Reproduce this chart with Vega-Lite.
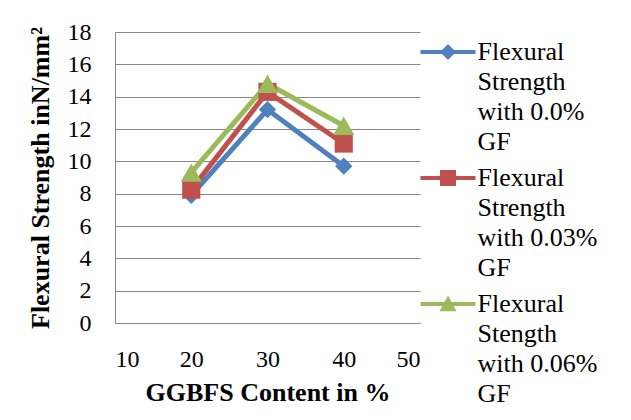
{
  "$schema": "https://vega.github.io/schema/vega-lite/v6.json",
  "width": 305,
  "height": 291,
  "autosize": {"type": "none"},
  "padding": {"left": 115, "top": 32, "right": 211, "bottom": 97},
  "background": "white",
  "config": {
    "view": {"stroke": null},
    "font": "Times New Roman, Liberation Serif, serif",
    "axis": {
      "labelFont": "Times New Roman, Liberation Serif, serif",
      "titleFont": "Times New Roman, Liberation Serif, serif",
      "labelColor": "black",
      "titleColor": "black",
      "domainColor": "#878787",
      "gridColor": "#878787",
      "gridOpacity": 1,
      "ticks": false
    }
  },
  "data": {
    "values": [
      {"ggbfs": 20, "strength": 7.9, "series": "Flexural Strength with 0.0% GF"},
      {"ggbfs": 30, "strength": 13.2, "series": "Flexural Strength with 0.0% GF"},
      {"ggbfs": 40, "strength": 9.7, "series": "Flexural Strength with 0.0% GF"},
      {"ggbfs": 20, "strength": 8.25, "series": "Flexural Strength with 0.03% GF"},
      {"ggbfs": 30, "strength": 14.3, "series": "Flexural Strength with 0.03% GF"},
      {"ggbfs": 40, "strength": 11.1, "series": "Flexural Strength with 0.03% GF"},
      {"ggbfs": 20, "strength": 9.3, "series": "Flexural Stength with 0.06% GF"},
      {"ggbfs": 30, "strength": 14.8, "series": "Flexural Stength with 0.06% GF"},
      {"ggbfs": 40, "strength": 12.2, "series": "Flexural Stength with 0.06% GF"}
    ]
  },
  "encoding": {
    "x": {
      "field": "ggbfs",
      "type": "quantitative",
      "scale": {"domain": [10, 50], "nice": false},
      "axis": {
        "title": "GGBFS Content in %",
        "values": [10, 20, 30, 40, 50],
        "grid": false,
        "labelFontSize": 24,
        "labelPadding": 24,
        "titleFontSize": 26,
        "titleFontWeight": "bold",
        "titlePadding": 8
      }
    },
    "y": {
      "field": "strength",
      "type": "quantitative",
      "scale": {"domain": [0, 18], "nice": false},
      "axis": {
        "title": "Flexural Strength inN/mm²",
        "values": [0, 2, 4, 6, 8, 10, 12, 14, 16, 18],
        "grid": true,
        "labelFontSize": 24,
        "labelPadding": 24,
        "titleFontSize": 26,
        "titleFontWeight": "bold",
        "titlePadding": 14
      }
    },
    "color": {
      "field": "series",
      "type": "nominal",
      "scale": {
        "domain": ["Flexural Strength with 0.0% GF", "Flexural Strength with 0.03% GF", "Flexural Stength with 0.06% GF"],
        "range": ["#4F81BD", "#C0504D", "#9BBB59"]
      },
      "legend": {
        "title": null,
        "orient": "right",
        "offset": -7,
        "padding": 7,
        "rowPadding": 10,
        "labelFont": "Times New Roman, Liberation Serif, serif",
        "labelFontSize": 26,
        "labelColor": "black",
        "labelLimit": 220,
        "symbolOffset": 15,
        "labelOffset": 16.5,
        "labelExpr": "[split(datum.label, ' ')[0], split(datum.label, ' ')[1], split(datum.label, ' ')[2] + ' ' + split(datum.label, ' ')[3], split(datum.label, ' ')[4]]",
        "encode": {
          "symbols": {
            "update": {
              "shape": {"signal": "datum.value === 'Flexural Strength with 0.0% GF' ? 'M-3.44,-0.25L3.44,-0.25L3.44,0.25L-3.44,0.25Z M0,-1L1,0L0,1L-1,0Z' : datum.value === 'Flexural Strength with 0.03% GF' ? 'M-3.44,-0.25L3.44,-0.25L3.44,0.25L-3.44,0.25Z M-1,-1L1,-1L1,1L-1,1Z' : 'M-3.44,-0.25L3.44,-0.25L3.44,0.25L-3.44,0.25Z M0,-1.05L1.05,0.9L-1.05,0.9Z'"},
              "size": {"value": 256},
              "fill": {"scale": "color", "field": "value"},
              "fillOpacity": {"value": 1},
              "opacity": {"value": 1},
              "strokeWidth": {"value": 0}
            }
          },
          "labels": {
            "update": {
              "lineHeight": {"value": 30}
            }
          }
        }
      }
    }
  },
  "layer": [
    {
      "mark": {"type": "line", "strokeWidth": 5}
    },
    {
      "transform": [{"filter": "datum.series === 'Flexural Strength with 0.0% GF'"}],
      "mark": {"type": "point", "filled": true, "opacity": 1, "shape": "diamond", "size": 300}
    },
    {
      "transform": [{"filter": "datum.series === 'Flexural Strength with 0.03% GF'"}],
      "mark": {"type": "point", "filled": true, "opacity": 1, "shape": "square", "size": 330}
    },
    {
      "transform": [{"filter": "datum.series === 'Flexural Stength with 0.06% GF'"}],
      "mark": {"type": "point", "filled": true, "opacity": 1, "shape": "triangle-up", "size": 450}
    }
  ]
}
